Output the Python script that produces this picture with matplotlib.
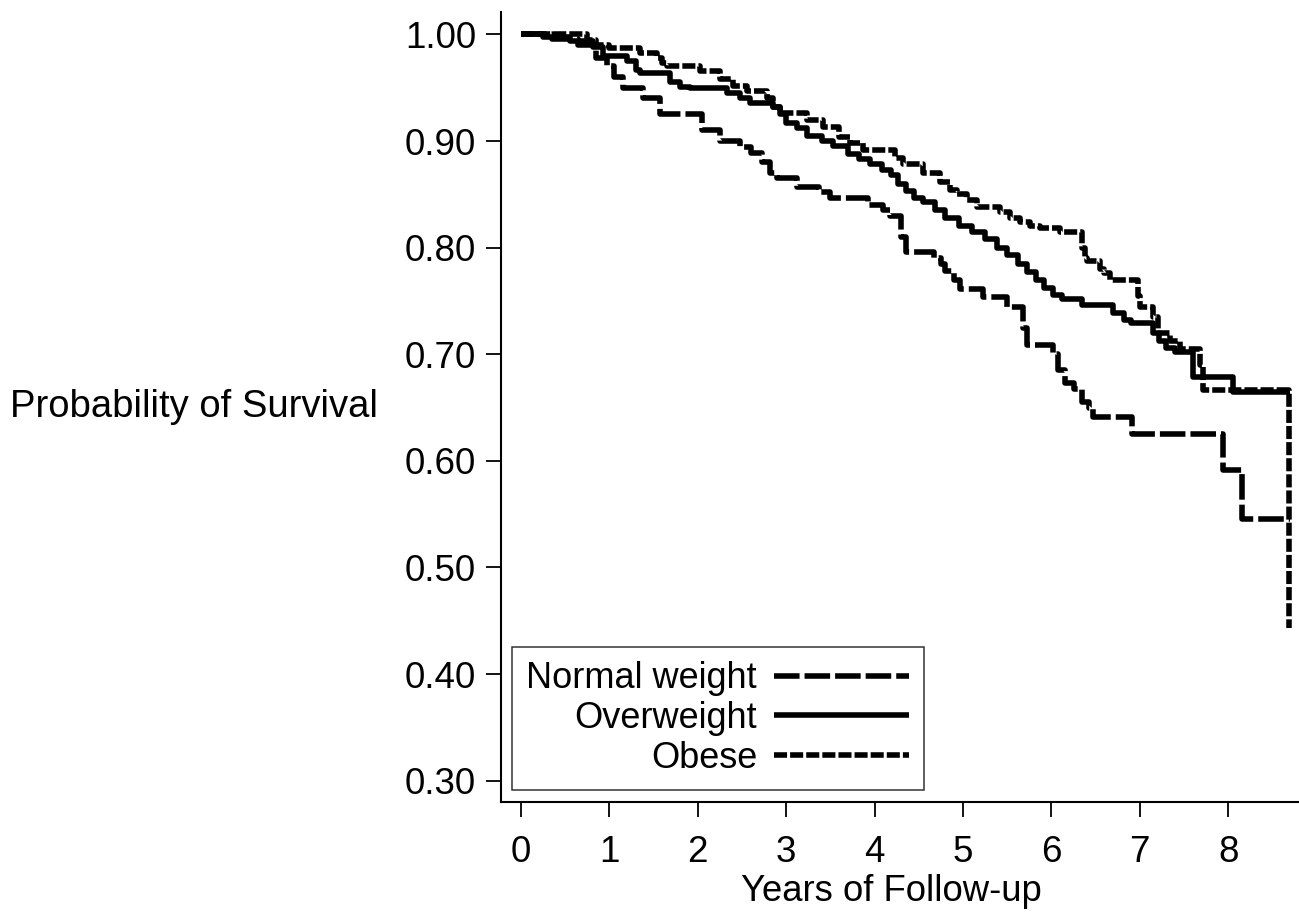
import matplotlib
matplotlib.use("Agg")
import matplotlib.pyplot as plt
from matplotlib.ticker import FormatStrFormatter

plt.rcParams['font.family'] = ['Liberation Sans', 'DejaVu Sans']

# ---- data ----
normal_t = [0, 0.35, 0.65, 0.85, 0.97, 1.05, 1.15, 1.38, 1.57, 2.05, 2.25, 2.48, 2.6, 2.73, 2.82,
            2.9, 3.12, 3.37, 3.5, 3.93, 4.1, 4.17, 4.3, 4.35, 4.67, 4.75, 4.8, 4.9, 4.97, 5.23,
            5.5, 5.68, 5.72, 6.02, 6.07, 6.15, 6.25, 6.35, 6.42, 6.47, 6.91, 7.94, 8.16, 8.7]
normal_s = [1.0, 0.996, 0.99, 0.978, 0.97, 0.96, 0.95, 0.94, 0.925, 0.91, 0.90, 0.894, 0.889, 0.88,
            0.87, 0.865, 0.857, 0.852, 0.847, 0.84, 0.835, 0.83, 0.81, 0.796, 0.79, 0.785, 0.778,
            0.77, 0.761, 0.754, 0.744, 0.725, 0.709, 0.70, 0.685, 0.673, 0.667, 0.655, 0.65, 0.641,
            0.625, 0.591, 0.545, 0.545]

over_t = [0, 0.25, 0.55, 0.82, 0.93, 1.2, 1.3, 1.35, 1.69, 1.8, 1.91, 2.33, 2.48, 2.59, 2.85, 2.93,
          3.0, 3.12, 3.24, 3.4, 3.53, 3.7, 3.82, 3.95, 4.08, 4.18, 4.27, 4.35, 4.45, 4.55, 4.68,
          4.8, 4.95, 5.1, 5.25, 5.38, 5.5, 5.62, 5.72, 5.82, 5.92, 6.02, 6.12, 6.35, 6.7, 6.82,
          6.9, 7.15, 7.22, 7.3, 7.4, 7.6, 8.05, 8.7]
over_s = [1.0, 0.998, 0.994, 0.988, 0.98, 0.975, 0.967, 0.964, 0.955, 0.951, 0.95, 0.945, 0.94,
          0.936, 0.932, 0.925, 0.917, 0.912, 0.905, 0.9, 0.895, 0.888, 0.883, 0.878, 0.873, 0.868,
          0.86, 0.853, 0.847, 0.843, 0.835, 0.828, 0.82, 0.815, 0.808, 0.8, 0.793, 0.785, 0.777,
          0.77, 0.762, 0.756, 0.752, 0.746, 0.739, 0.732, 0.729, 0.72, 0.712, 0.706, 0.702, 0.679,
          0.665, 0.665]

obese_t = [0, 0.75, 0.85, 1.0, 1.35, 1.54, 1.6, 1.65, 2.02, 2.25, 2.4, 2.56, 2.78, 2.85, 2.93,
           3.24, 3.42, 3.6, 3.72, 3.87, 4.23, 4.32, 4.55, 4.74, 4.85, 4.93, 5.05, 5.16, 5.42,
           5.53, 5.64, 5.76, 5.87, 6.1, 6.35, 6.38, 6.4, 6.55, 6.6, 6.66, 6.98, 7.0, 7.15, 7.2,
           7.34, 7.45, 7.68, 7.71, 8.69]
obese_s = [1.0, 0.995, 0.99, 0.987, 0.983, 0.978, 0.973, 0.97, 0.966, 0.958, 0.952, 0.947, 0.94,
           0.932, 0.926, 0.92, 0.913, 0.904, 0.898, 0.892, 0.884, 0.878, 0.87, 0.862, 0.854, 0.85,
           0.845, 0.838, 0.833, 0.828, 0.824, 0.82, 0.818, 0.815, 0.8, 0.79, 0.787, 0.78, 0.776,
           0.77, 0.755, 0.744, 0.735, 0.72, 0.712, 0.705, 0.69, 0.666, 0.443]

series_labels = ["Normal weight", "Overweight", "Obese"]
x_ticks = [0, 1, 2, 3, 4, 5, 6, 7, 8]
y_ticks = [0.30, 0.40, 0.50, 0.60, 0.70, 0.80, 0.90, 1.00]
x_label = "Years of Follow-up"
y_label = "Probability of Survival"

# ---- figure ----
W, H = 1299, 913
fig = plt.figure(figsize=(W / 100, H / 100), dpi=100)
ax = fig.add_axes([501 / W, 1 - 802 / H, (W - 501) / W, (802 - 12) / H])

lw = 4.0
ax.plot(normal_t, normal_s, drawstyle='steps-post', color='black', lw=lw,
        dashes=(4.6, 0.9), label=series_labels[0])
ax.plot(over_t, over_s, drawstyle='steps-post', color='black', lw=lw,
        solid_capstyle='butt', label=series_labels[1])
ax.plot(obese_t, obese_s, drawstyle='steps-post', color='black', lw=lw,
        dashes=(2.35, 0.55), label=series_labels[2])

ax.set_xlim(-0.226, 8.8)
ax.set_ylim(0.28, 1.021)
ax.set_xticks(x_ticks)
ax.set_yticks(y_ticks)
ax.yaxis.set_major_formatter(FormatStrFormatter('%.2f'))

for s in ['top', 'right']:
    ax.spines[s].set_visible(False)
for s in ['left', 'bottom']:
    ax.spines[s].set_linewidth(1.5)

ax.tick_params(axis='both', direction='out', length=11, width=1.3, labelsize=26.5, color='black')
ax.tick_params(axis='y', pad=7)
ax.tick_params(axis='x', pad=13)

ax.set_ylabel(y_label, rotation=0, ha='right', va='center', fontsize=27.5)
ax.yaxis.set_label_coords(-0.154, 0.5)
ax.set_xlabel(x_label, fontsize=26.3, va='center')
ax.xaxis.set_label_coords(0.489, -0.113)

leg = ax.legend(loc='lower left', bbox_to_anchor=(0.0138, 0.0152), borderaxespad=0,
                markerfirst=False, fancybox=False, frameon=True, edgecolor='black',
                fontsize=26, handlelength=3.74, handletextpad=0.47, labelspacing=0.13,
                borderpad=0.4)
leg.get_frame().set_linewidth(1.1)

fig.savefig("out.png", dpi=100, facecolor='white')
